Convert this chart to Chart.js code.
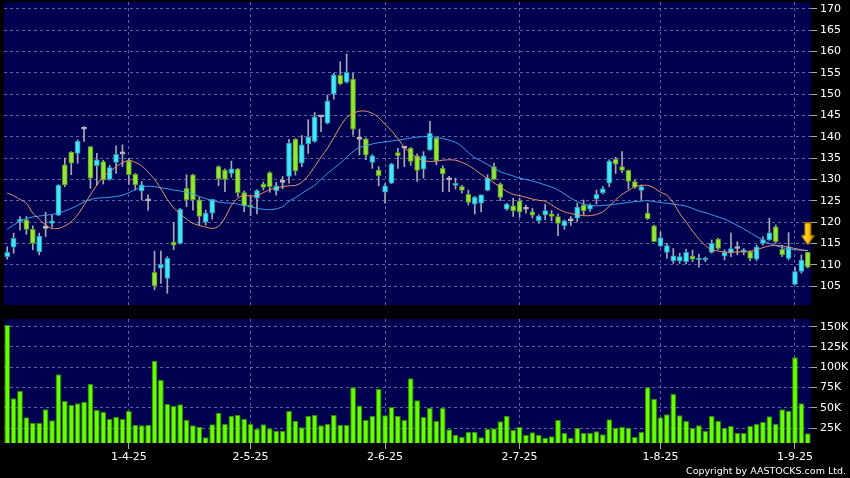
<!DOCTYPE html>
<html><head><meta charset="utf-8">
<script src="https://cdn.jsdelivr.net/npm/chart.js@4.4.1/dist/chart.umd.min.js"></script>
<style>
html,body{margin:0;padding:0;background:#000;}
#wrap{position:relative;width:850px;height:478px;overflow:hidden;background:#000;}
#pc{position:absolute;left:0;top:0;}
#vc{position:absolute;left:0;top:310px;}
#copy{position:absolute;right:4px;top:465px;color:#fff;font:9.5px "DejaVu Sans",Verdana,sans-serif;white-space:nowrap;}
</style></head><body>
<div id="wrap">
<canvas id="pc" width="850" height="310"></canvas>
<canvas id="vc" width="850" height="168"></canvas>
<div id="copy">Copyright by AASTOCKS.com Ltd.</div>
</div>
<script>
// ---- data ----
const dates = [
 '5-3-25','6-3-25','7-3-25','10-3-25','11-3-25','12-3-25','13-3-25','14-3-25','17-3-25','18-3-25',
 '19-3-25','20-3-25','21-3-25','24-3-25','25-3-25','26-3-25','27-3-25','28-3-25','31-3-25',
 '1-4-25','2-4-25','3-4-25','7-4-25','8-4-25','9-4-25','10-4-25','11-4-25','14-4-25','15-4-25',
 '16-4-25','17-4-25','22-4-25','23-4-25','24-4-25','25-4-25','28-4-25','29-4-25','30-4-25',
 '2-5-25','5-5-25','6-5-25','7-5-25','8-5-25','9-5-25','12-5-25','13-5-25','14-5-25','15-5-25',
 '16-5-25','19-5-25','20-5-25','21-5-25','22-5-25','23-5-25','26-5-25','27-5-25','28-5-25','29-5-25','30-5-25',
 '2-6-25','3-6-25','4-6-25','5-6-25','6-6-25','9-6-25','10-6-25','11-6-25','12-6-25','13-6-25',
 '16-6-25','17-6-25','18-6-25','19-6-25','20-6-25','23-6-25','24-6-25','25-6-25','26-6-25','27-6-25','30-6-25',
 '2-7-25','3-7-25','4-7-25','7-7-25','8-7-25','9-7-25','10-7-25','11-7-25','14-7-25','15-7-25',
 '16-7-25','17-7-25','18-7-25','21-7-25','22-7-25','23-7-25','24-7-25','25-7-25','28-7-25','29-7-25','30-7-25','31-7-25',
 '1-8-25','4-8-25','5-8-25','6-8-25','7-8-25','8-8-25','11-8-25','12-8-25','13-8-25','14-8-25',
 '15-8-25','18-8-25','19-8-25','20-8-25','21-8-25','22-8-25','25-8-25','26-8-25','27-8-25','28-8-25','29-8-25',
 '1-9-25','2-9-25','3-9-25'
];
const tickDates = ['1-4-25','2-5-25','2-6-25','2-7-25','1-8-25','1-9-25'];
const open = [
 111.9,114.1,120.1,120.5,118.3,113.0,118.5,119.7,121.6,133.4,
 136.4,136.1,141.8,137.7,133.2,134.2,130.0,134.0,136.0,134.3,
 131.2,127.3,125.0,108.2,109.2,106.8,115.3,115.0,127.9,131.1,
 125.2,120.0,122.1,133.0,132.2,131.4,132.4,126.9,123.9,125.6,
 128.9,131.6,127.3,129.3,130.7,139.4,133.8,138.3,138.9,144.7,
 143.2,150.0,154.4,152.8,153.5,139.4,139.5,134.0,132.2,127.0,
 129.1,136.3,137.3,137.3,135.5,132.4,136.9,139.7,132.6,129.9,
 128.6,128.3,126.5,124.2,124.4,127.4,133.0,128.9,123.0,123.8,
 125.0,123.0,122.4,120.3,121.7,121.9,121.3,119.1,120.3,120.9,
 124.0,123.0,125.4,126.9,129.1,134.7,133.0,132.1,129.5,127.4,
 122.1,119.1,114.4,112.9,110.9,110.9,110.7,112.0,111.1,111.1,
 112.9,116.0,112.0,112.8,113.8,113.0,113.0,111.3,115.0,115.8,
 118.9,113.6,111.5,105.4,108.4,112.9
];
const high = [
 114.2,117.4,121.3,121.3,119.1,117.4,122.3,121.6,128.8,135.0,
 136.5,139.3,142.4,137.7,136.1,134.5,133.3,137.9,138.1,135.0,
 131.4,129.5,126.4,113.2,113.2,111.9,119.9,123.2,131.1,131.2,
 125.8,122.8,125.3,133.2,132.5,134.3,132.6,127.3,126.1,127.6,
 129.4,131.8,129.3,130.7,139.4,139.6,140.3,144.0,145.7,144.9,
 149.8,154.9,157.6,159.4,154.9,141.8,139.7,135.8,133.0,129.0,
 133.8,137.3,137.8,137.5,136.0,136.5,143.6,139.8,133.2,130.7,
 130.3,128.6,127.5,126.0,126.4,131.1,133.8,129.2,124.4,125.6,
 125.6,124.0,123.2,121.7,124.2,122.7,121.9,120.5,121.3,124.4,
 125.2,124.3,127.5,128.3,134.6,135.2,136.5,132.2,129.8,128.7,
 124.4,119.3,117.7,115.0,113.8,112.7,113.6,113.4,112.5,111.8,
 115.8,116.2,113.5,117.4,115.4,113.8,113.3,114.6,116.6,120.9,
 119.3,114.6,117.5,109.4,112.3,112.9
];
const low = [
 111.3,112.7,118.1,117.1,113.5,112.3,116.6,118.8,121.5,128.3,
 131.1,133.8,138.9,127.9,128.7,128.9,129.8,131.4,133.0,128.8,
 127.5,125.2,122.8,104.1,105.6,103.3,113.5,114.8,123.6,122.8,
 119.3,119.3,120.7,128.5,127.1,130.5,126.0,122.4,121.5,121.9,
 127.5,127.0,126.3,127.8,129.1,131.0,133.0,136.1,138.7,141.2,
 143.0,148.8,152.2,152.6,140.4,135.7,134.6,132.6,128.5,124.4,
 129.0,132.6,133.0,133.3,129.5,130.3,136.8,133.4,127.1,127.1,
 127.7,126.8,124.0,121.9,122.4,127.3,129.9,125.0,122.8,121.3,
 121.1,122.1,120.9,119.7,120.5,120.3,116.8,118.3,119.2,120.1,
 121.7,122.5,124.2,126.6,128.3,131.4,131.6,127.7,127.9,125.3,
 120.6,115.4,114.2,111.5,110.3,110.3,110.2,110.7,109.4,110.7,
 112.7,113.5,111.1,111.9,112.3,112.3,110.9,110.9,114.6,115.7,
 115.0,111.9,111.1,105.3,108.0,109.2
];
const close = [
 112.9,116.2,120.7,118.3,115.0,116.7,118.5,120.3,128.6,128.7,
 133.8,138.9,141.8,130.3,134.6,129.9,132.8,135.9,136.0,131.1,
 128.7,128.7,125.0,105.0,110.1,111.5,114.6,123.0,125.2,125.2,
 121.3,122.1,125.3,130.1,130.0,132.5,126.9,123.8,123.5,127.4,
 128.1,128.3,128.5,129.3,138.5,132.0,138.1,140.0,144.7,144.7,
 148.4,154.5,152.4,155.1,141.8,139.4,135.7,135.5,130.9,128.5,
 133.6,135.5,137.3,134.2,132.1,135.5,140.8,134.4,131.3,129.9,
 129.1,127.4,124.6,125.8,126.4,130.3,130.0,125.8,124.2,122.6,
 122.4,123.0,121.6,121.4,122.7,121.3,119.7,120.3,120.3,123.5,
 122.6,124.0,126.5,127.8,134.3,133.6,132.1,129.5,128.2,128.3,
 120.8,115.4,116.3,114.5,112.1,111.9,112.9,111.3,111.5,111.4,
 115.0,113.8,112.9,113.8,113.8,113.4,111.5,114.2,115.9,117.5,
 115.4,112.3,114.2,108.4,111.1,109.4
];
const volume = [
 152000,61900,70800,38500,31900,31900,48300,34800,91400,58500,
 53600,55700,57700,79500,47900,45400,36400,39200,36400,46200,
 29000,28600,29000,108100,84400,55000,52800,54500,35600,28600,
 26600,13900,29900,44200,30300,40500,41300,36400,30300,24100,
 29900,25000,22000,21600,46200,34300,26200,40100,41300,28600,
 30300,41300,29000,29000,75400,53000,35200,40100,73300,40900,
 51200,40500,35200,86400,59400,38900,49900,33900,50400,23700,
 16700,14700,20400,20800,13900,24100,25000,33500,40100,22900,
 26600,16700,20000,16700,13500,15100,35200,19200,13500,25300,
 19200,19200,21300,17600,36000,25700,27000,25700,14300,20800,
 75400,61400,38500,42200,67600,40900,33900,25300,28600,22000,
 40100,33900,25700,27800,19200,19200,27800,30300,32700,39700,
 30300,48300,46600,112300,55700,18800
];
const ma10 = [
 126.8,126.2,125.3,124.4,122.1,120.7,119.3,118.5,118.5,119.1,
 120.1,121.7,124.0,126.4,128.7,130.7,131.8,133.0,133.9,134.5,
 134.0,133.2,131.7,130.0,127.8,125.3,123.3,121.9,120.7,119.7,
 119.2,118.8,118.5,119.0,121.0,123.9,125.6,126.3,126.1,126.2,
 126.9,127.6,128.0,128.3,128.5,128.6,129.3,130.9,133.0,135.2,
 137.3,139.8,142.4,144.5,145.5,146.0,146.0,145.5,144.5,142.9,
 141.4,139.6,137.5,136.2,135.0,134.4,134.2,134.3,134.5,134.6,
 134.5,134.0,133.3,132.3,131.2,130.2,129.2,128.2,127.2,126.5,
 126.2,125.8,125.4,125.1,124.9,124.0,123.1,122.4,122.0,121.7,
 121.5,121.5,121.8,122.4,123.7,125.2,126.5,127.4,128.3,128.6,
 128.6,128.0,127.0,126.3,124.5,122.0,120.0,117.9,116.0,114.5,
 113.5,113.2,113.0,112.9,113.0,113.0,113.1,113.5,114.0,114.4,
 114.5,114.4,114.1,113.8,113.5,113.3
];
const ma20 = [
 118.3,119.3,120.2,120.8,121.2,121.4,121.6,121.8,122.1,122.6,
 123.2,123.9,124.7,125.3,125.6,125.7,125.8,126.0,126.3,126.9,
 127.6,128.2,128.4,128.3,128.0,127.8,127.5,127.3,127.0,126.6,
 126.0,125.5,125.0,124.7,124.5,124.4,124.2,123.9,123.6,123.2,
 123.0,122.9,123.1,123.6,124.9,125.7,126.7,127.7,128.6,130.0,
 131.4,132.6,133.8,135.2,136.5,137.5,137.9,138.3,138.6,138.8,
 139.0,139.2,139.4,139.7,139.9,140.0,140.0,139.9,139.6,139.2,
 138.7,137.7,136.3,135.1,134.3,133.5,132.6,131.8,131.3,130.8,
 130.3,130.0,129.6,129.2,128.7,128.2,127.5,126.6,125.6,124.8,
 124.2,123.9,123.8,123.9,124.0,124.2,124.4,124.6,124.8,124.9,
 125.0,124.8,124.6,124.4,124.2,124.0,123.7,123.2,122.6,122.2,
 121.7,121.2,120.7,120.0,119.2,118.4,117.5,116.6,115.8,115.0,
 114.5,114.0,113.7,113.5,113.4,113.3
];
const priceTicks = [105,110,115,120,125,130,135,140,145,150,155,160,165,170];
const volumeTicks = [25000,50000,75000,100000,125000,150000];
const arrowLevel = 117.2;   // latest-session marker

// ---- styling / chart setup ----
Chart.defaults.font.family = "'DejaVu Sans', Verdana, sans-serif";
Chart.defaults.font.size = 11;
Chart.defaults.color = '#ffffff';
Chart.defaults.animation = false;

const N = dates.length;
const tickSet = new Set(tickDates);
const isTick = i => tickSet.has(dates[i]);
const GRID = 'rgba(130,130,185,0.75)';
const NAVY = '#000050';

const navyBg = { id: 'navyBg', beforeDraw(chart) {
  const { ctx, chartArea: a } = chart;
  ctx.save(); ctx.fillStyle = NAVY; ctx.fillRect(a.left, a.top, a.right - a.left, a.bottom - a.top); ctx.restore();
}};

function xAxis(showLabels) {
  return {
    type: 'category', offset: true,
    grid: { offset: false, lineWidth: 1, borderDash: [3, 3],
      color: c => isTick(c.index) ? GRID : 'rgba(0,0,0,0)',
      drawTicks: showLabels, tickLength: 6, tickBorderDash: [],
      tickColor: c => isTick(c.index) ? '#aaaaaa' : 'rgba(0,0,0,0)' },
    border: { display: false, dash: [3, 3] },
    ticks: { display: showLabels, autoSkip: false, maxRotation: 0, minRotation: 0, padding: 2, color: '#ffffff',
      callback: (v, i) => isTick(i) ? dates[i] : '' },
    afterFit: s => { s.height = showLabels ? 35 : 5; s.paddingLeft = 0; s.paddingRight = 0; s.paddingTop = 0; s.paddingBottom = 0; }
  };
}
function yAxis(min, max, ticksArr, fmt) {
  return {
    position: 'right', min, max,
    afterBuildTicks: s => { s.ticks = ticksArr.map(v => ({ value: v })); },
    grid: { color: GRID, lineWidth: 1, borderDash: [3, 3], drawTicks: true, tickLength: 6,
      tickColor: '#aaaaaa', tickBorderDash: [] },
    border: { display: false, dash: [3, 3] },
    ticks: { padding: 3, color: '#ffffff', callback: fmt },
    afterFit: s => { s.width = 39; s.paddingTop = 0; s.paddingBottom = 0; s.paddingLeft = 0; s.paddingRight = 0; }
  };
}

const UP = '#44e6f6', UP_B = '#1e9fb8';
const DN = '#92e636', DN_B = '#5b9a1c';
const EQ = '#bdbdbd';
const bodyFill = i => close[i] > open[i] ? UP : (close[i] < open[i] ? DN : EQ);
const bodyLine = i => close[i] > open[i] ? UP_B : (close[i] < open[i] ? DN_B : EQ);

// arrow marker image
const arrowImg = document.createElement('canvas');
arrowImg.width = 14; arrowImg.height = 23;
(() => {
  const g = arrowImg.getContext('2d');
  const gr = g.createLinearGradient(0, 0, 14, 0);
  gr.addColorStop(0, '#fff0a0'); gr.addColorStop(0.45, '#ffcc10'); gr.addColorStop(1, '#d08800');
  g.fillStyle = gr; g.strokeStyle = '#a06a00'; g.lineWidth = 1;
  g.beginPath(); g.moveTo(4, 0.5); g.lineTo(10, 0.5); g.lineTo(10, 13); g.lineTo(13.5, 13);
  g.lineTo(7, 22.5); g.lineTo(0.5, 13); g.lineTo(4, 13); g.closePath(); g.fill(); g.stroke();
})();

new Chart(document.getElementById('pc'), {
  type: 'bar',
  data: {
    labels: dates,
    datasets: [
      { type: 'line', data: ma10, borderColor: '#ee9868', borderWidth: 1, pointRadius: 0, tension: 0.25, order: 1 },
      { type: 'line', data: ma20, borderColor: '#3ea6f2', borderWidth: 1, pointRadius: 0, tension: 0.25, order: 1 },
      { type: 'line', data: dates.map((d, i) => i === N - 1 ? arrowLevel : null), showLine: false,
        pointStyle: arrowImg, pointRadius: 10, order: 0 },
      { type: 'bar', data: open.map((o, i) => [o, close[i]]), grouped: false, barThickness: 5,
        minBarLength: 2, borderSkipped: false, borderWidth: 1,
        backgroundColor: c => bodyFill(c.dataIndex), borderColor: c => bodyLine(c.dataIndex), order: 2 },
      { type: 'bar', data: low.map((l, i) => [l, high[i]]), grouped: false, barThickness: 1,
        backgroundColor: '#a8a8b0', order: 3 }
    ]
  },
  options: {
    responsive: false, maintainAspectRatio: false,
    layout: { autoPadding: false, padding: { left: 4, top: 2, right: 0, bottom: 0 } },
    plugins: { legend: { display: false }, tooltip: { enabled: false } },
    scales: { x: xAxis(false), y: yAxis(100.55, 171.6, priceTicks, v => String(v)) }
  },
  plugins: [navyBg]
});

new Chart(document.getElementById('vc'), {
  type: 'bar',
  data: {
    labels: dates,
    datasets: [{ data: volume, backgroundColor: '#66ff00', borderColor: '#2f8a00', borderWidth: 1,
      barPercentage: 0.9, categoryPercentage: 1.0 }]
  },
  options: {
    responsive: false, maintainAspectRatio: false,
    layout: { autoPadding: false, padding: { left: 4, top: 9, right: 0, bottom: 0 } },
    plugins: { legend: { display: false }, tooltip: { enabled: false } },
    scales: { x: xAxis(true), y: yAxis(6900, 159400, volumeTicks, v => (v / 1000) + 'K') }
  },
  plugins: [navyBg]
});
</script>
</body></html>
